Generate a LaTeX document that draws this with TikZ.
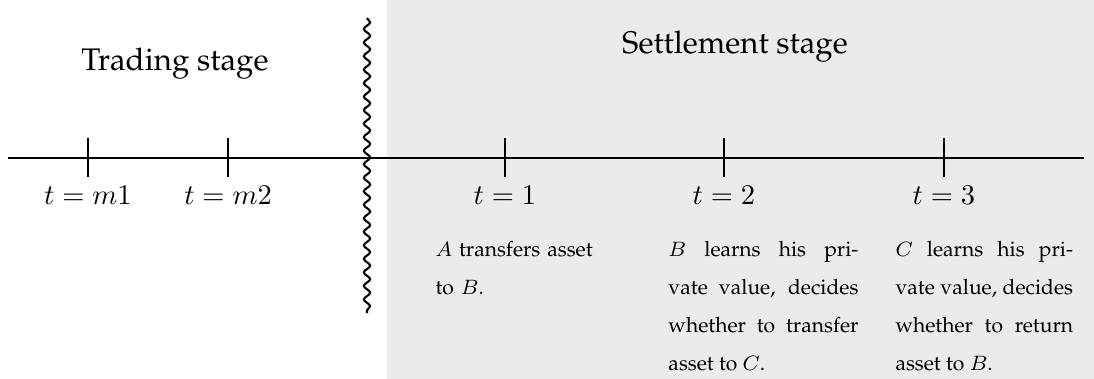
\documentclass[tikz,border=0pt]{standalone}
\usepackage[T1]{fontenc}
\renewcommand{\rmdefault}{ppl}
\usetikzlibrary{decorations.pathmorphing}
\tikzset{
  stagetitle/.style={anchor=base,font=\fontsize{12}{14}\selectfont},
  timelabel/.style={anchor=base,font=\fontsize{11}{13}\selectfont},
  eventtext/.style={anchor=base west,align=justify,inner sep=0pt,font=\fontsize{8.1}{14.7}\selectfont},
  tick/.style={thick}
}

\begin{document}
\begin{tikzpicture}
\useasboundingbox (0,-2.987) rectangle (14.788,2.136);
\fill[black!8] (5.231,-2.987) rectangle (14.788,2.136);
\draw[thick] (0.108,0)--(14.652,0);
\draw[tick] (1.189,-0.257)--(1.189,0.27);
\draw[tick] (3.082,-0.257)--(3.082,0.27);
\draw[tick] (6.826,-0.257)--(6.826,0.27);
\draw[tick] (9.786,-0.257)--(9.786,0.27);
\draw[tick] (12.760,-0.257)--(12.760,0.27);
\draw[thick,decorate,decoration={snake,segment length=5.2pt,amplitude=1.2pt}] (4.961,1.892)--(4.961,-2.095);
\node[stagetitle] (trading) at (2.365,1.189) {Trading stage};
\node[stagetitle] (settlement) at (9.935,1.419) {Settlement stage};
\node[timelabel] (tm1) at (1.189,-0.635) {$t=m1$};
\node[timelabel] (tm2) at (3.082,-0.635) {$t=m2$};
\node[timelabel] (t1) at (6.826,-0.635) {$t=1$};
\node[timelabel] (t2) at (9.786,-0.635) {$t=2$};
\node[timelabel] (t3) at (12.760,-0.635) {$t=3$};
\node[eventtext,align=left,text width=2.40cm] (ev1) at (5.880,-1.325) {$A$ transfers asset\\to $B$.};
\node[eventtext,text width=2.568cm] (ev2) at (9.029,-1.325) {$B$ learns his pri-\linebreak vate value, decides\linebreak whether to transfer\linebreak asset to $C$.};
\node[eventtext,text width=2.40cm] (ev3) at (12.098,-1.325) {$C$ learns his pri-\linebreak vate value, decides\linebreak whether to return\linebreak asset to $B$.};
\end{tikzpicture}
\end{document}
